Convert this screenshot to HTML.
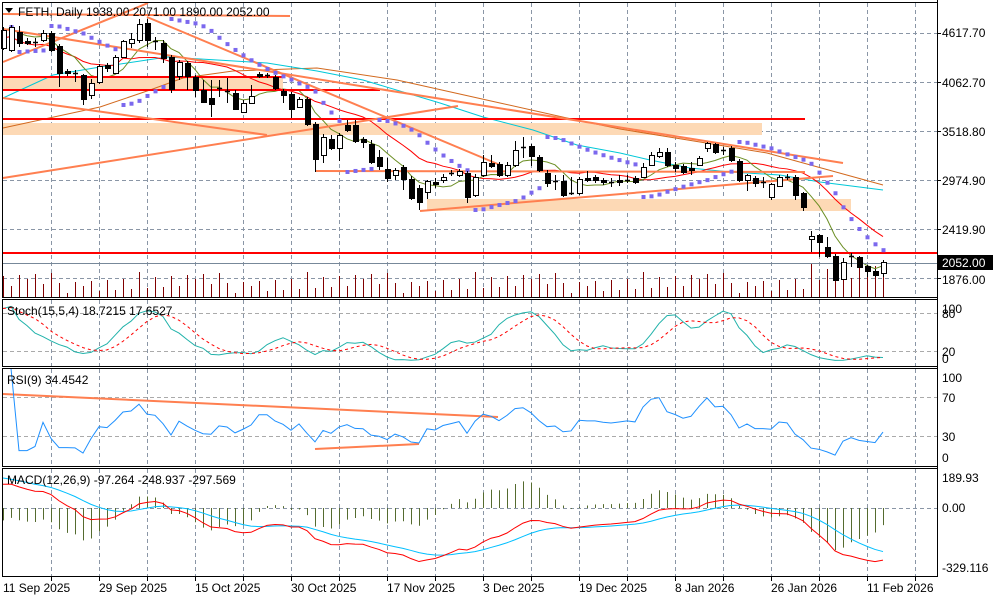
<!DOCTYPE html>
<html><head><meta charset="utf-8">
<style>
html,body{margin:0;padding:0;background:#fff;}
svg{display:block;font-family:"Liberation Sans",sans-serif;}
</style></head>
<body>
<svg id="s" width="1000" height="600" viewBox="0 0 1000 600" xmlns="http://www.w3.org/2000/svg">
<rect x="0" y="0" width="1000" height="600" fill="#fff"/>
<g id="grid"></g>
<g id="bands"></g>
<g id="vol"></g>
<g id="mas"></g>
<g id="lines"></g>
<g id="psar"></g>
<g id="candles"></g>
<g id="ind"></g>
<g id="frame" stroke="#000" stroke-width="1" fill="none" shape-rendering="crispEdges">
<rect x="2.5" y="2.5" width="935" height="295"/>
<rect x="2.5" y="299.5" width="935" height="67"/>
<rect x="2.5" y="368.5" width="935" height="98"/>
<rect x="2.5" y="468.5" width="935" height="108"/>
</g>
<g id="ticks" stroke="#000" shape-rendering="crispEdges"></g>
<g font-size="12" fill="#000">
<path d="M5 8 L13 8 L9 13 Z" fill="#000"/>
<text x="18" y="16">FETH, Daily  1938.00 2071.00 1890.00 2052.00</text>
<text x="942" y="37">4617.70</text>
<text x="942" y="87">4062.70</text>
<text x="942" y="136">3518.80</text>
<text x="942" y="185">2974.90</text>
<text x="942" y="234">2419.90</text>
<text x="942" y="284">1876.00</text>
<rect x="938" y="255" width="55" height="15" fill="#000"/>
<text x="942" y="267" fill="#fff">2052.00</text>
<text x="7" y="315">Stoch(15,5,4) 18.7215 17.6527</text>
<text x="942" y="313">100</text>
<text x="942" y="318">80</text>
<text x="942" y="356">20</text>
<text x="942" y="363">0</text>
<text x="7" y="384">RSI(9) 34.4542</text>
<text x="942" y="382">100</text>
<text x="942" y="402">70</text>
<text x="942" y="441">30</text>
<text x="942" y="462">0</text>
<text x="7" y="484">MACD(12,26,9) -97.264 -248.937 -297.569</text>
<text x="942" y="482">189.93</text>
<text x="942" y="512">0.00</text>
<text x="942" y="572">-329.116</text>
<text x="3" y="592">11 Sep 2025</text>
<text x="99" y="592">29 Sep 2025</text>
<text x="195" y="592">15 Oct 2025</text>
<text x="291" y="592">30 Oct 2025</text>
<text x="387" y="592">17 Nov 2025</text>
<text x="483" y="592">3 Dec 2025</text>
<text x="579" y="592">19 Dec 2025</text>
<text x="675" y="592">8 Jan 2026</text>
<text x="771" y="592">26 Jan 2026</text>
<text x="867" y="592">11 Feb 2026</text>
</g>
</svg>
<script>
(function(){
var NS="http://www.w3.org/2000/svg";
function el(g,tag,a){var e=document.createElementNS(NS,tag);for(var k in a)e.setAttribute(k,a[k]);document.getElementById(g).appendChild(e);return e;}
function X(k){return 3+8*k;}
var D=[[48,30,27,50],[50,27,25,52],[32,43,26,47],[41,43,38,45],[43,42,38,47],[40,33,30,42],[33,50,31,52],[46,73,44,87],[71,73,69,76],[73,74,70,82],
[75,99,74,105],[95,83,79,99],[82,66,64,84],[65,68,63,72],[73,57,55,74],[57,41,40,58],[43,39,33,48],[40,24,19,43],[23,40,19,47],[41,42,37,50],
[43,58,40,63],[57,89,55,93],[76,62,60,80],[63,76,61,90],[77,90,75,97],[90,102,80,103],[98,104,80,117],[88,89,80,97],[91,92,78,103],[93,109,90,110],
[112,103,100,113],[103,96,85,104],[74,76,72,78],[75,76,73,78],[77,88,75,90],[91,95,89,103],[94,109,92,118],[107,99,97,108],[99,124,97,126],[124,159,122,172],
[155,137,134,163],[139,148,135,150],[148,135,133,161],[125,130,120,132],[125,141,120,143],[139,142,137,148],[144,162,140,164],[157,166,150,170],[169,178,158,182],[175,170,168,180],
[167,179,165,190],[179,198,176,200],[188,202,185,210],[192,181,180,199],[182,184,178,188],[180,177,174,183],[173,174,170,176],[175,171,169,177],[173,197,171,203],[195,177,174,197],
[175,162,155,177],[163,166,155,168],[164,175,162,177],[175,165,162,177],[165,150,141,167],[147,148,137,158],[146,156,144,166],[157,170,155,172],[173,183,170,187],[181,182,175,190],
[181,195,175,197],[193,194,177,195],[193,179,177,195],[178,180,171,182],[177,180,175,183],[180,182,178,185],[182,183,178,187],[180,182,175,186],[180,181,175,183],[178,182,176,184],
[177,167,163,178],[165,155,152,166],[156,152,148,158],[152,165,148,167],[165,168,162,172],[166,172,164,174],[168,170,162,175],[165,158,156,166],[148,143,142,152],[144,152,143,154],
[150,151,147,155],[148,160,146,162],[161,180,159,182],[180,175,174,191],[178,183,176,187],[182,183,177,188],[197,184,183,200],[186,177,175,187],[177,178,174,180],[177,195,175,200],
[193,207,192,211],[239,236,231,252],[235,242,234,257],[247,256,237,258],[256,280,254,281],[279,262,258,280],[256,257,253,267],[257,267,256,268],[266,271,265,277],[271,275,269,277],[273,262,260,277]];
var N=D.length;
function P(y){return 4617.7-(y-33)*(2741.7/245);}
function Y(p){return 33+(4617.7-p)*(245/2741.7);}
var C=D.map(function(d){return P(d[1]);}),H=D.map(function(d){return P(d[2]);}),L=D.map(function(d){return P(d[3]);});
var gs={stroke:"#8a96a6","stroke-width":1,"stroke-dasharray":"4,3","shape-rendering":"crispEdges",fill:"none"};
function gl(x1,y1,x2,y2,c){var a={};for(var k in gs)a[k]=gs[k];a.x1=x1;a.y1=y1;a.x2=x2;a.y2=y2;if(c)a.stroke=c;el("grid","line",a);}
for(var i=1;i<=19;i++){var x=3+48*i+0.5;gl(x,3,x,297);gl(x,300,x,366);gl(x,369,x,466);gl(x,469,x,576);
 el("ticks","line",{x1:x,y1:576,x2:x,y2:581});}
[33,82,131,180,229,278].forEach(function(y){gl(3,y+.5,937,y+.5);el("ticks","line",{x1:937,y1:y+.5,x2:941,y2:y+.5});});
gl(3,313.5,937,313.5,"#aaa");gl(3,351.5,937,351.5,"#aaa");
gl(3,397.5,937,397.5,"#aaa");gl(3,436.5,937,436.5,"#aaa");
gl(3,508.5,937,508.5);
el("bands","rect",{x:3,y:77,width:280,height:13,fill:"#fdd9b5"});
el("bands","rect",{x:3,y:123,width:759,height:12,fill:"#fdd9b5"});
el("bands","rect",{x:427,y:199,width:424,height:12,fill:"#fdd9b5"});
for(var k=0;k<N;k++){var h=4+((k*53+17)%21)+((k%7==3)?6:0);if(k>100)h+=8;
 el("vol","line",{x1:X(k)+.5,y1:297,x2:X(k)+.5,y2:297-h,stroke:"#800000","stroke-width":1,"shape-rendering":"crispEdges"});}
function pl(g,pts,col,w,extra){var a={points:pts.map(function(p){return p[0]+","+p[1];}).join(" "),fill:"none",stroke:col,"stroke-width":w||1};for(var k in extra)a[k]=extra[k];return el(g,"polyline",a);}
pl("mas",[[3,128],[100,107],[150,90],[183,78],[233,71],[317,68],[397,80],[500,103],[567,118],[620,129],[700,142],[767,153],[883,185]],"#d2691e");
pl("mas",[[3,98],[53,75],[100,67],[167,57],[267,63],[317,71],[363,80],[440,103],[483,117],[533,130],[577,145],[620,153],[650,160],[690,168],[730,172],[780,175],[820,182],[883,190]],"#00c8d8");
function sma(arr,n){return arr.map(function(v,i){var s=0,c=0;for(var j=Math.max(0,i-n+1);j<=i;j++){s+=arr[j];c++;}return s/c;});}
var cy=D.map(function(d){return d[1];});
var r15=sma(cy,15),g6=sma(cy,6);
pl("mas",r15.map(function(v,i){return [X(i),v+ (i<15?8:0)];}),"#ff0000");
pl("mas",g6.map(function(v,i){return [X(i),v];}),"#6b8e23");
function ln(x1,y1,x2,y2,c,w){el("lines","line",{x1:x1,y1:y1,x2:x2,y2:y2,stroke:c,"stroke-width":w});}
ln(3,77,283,77,"#ff0000",2);ln(3,90,380,90,"#ff0000",2);ln(3,119,805,119,"#ff0000",2);
ln(3,253,937,253,"#ff0000",2);ln(3,263.5,937,263.5,"#778899",1);
var cor="#ff7f50";
ln(3,178,458,106,cor,2);ln(3,98,267,135,cor,2);ln(3,62,148,3,cor,2);ln(3,29,843,163,cor,2);
ln(147,17,500,165,cor,2);ln(3,14,290,16,cor,2);ln(316,171,805,172,cor,2);ln(420,211,833,176,cor,2);
ln(3,394,498,417,cor,2);ln(315,449,419,444,cor,2);
(function(){var up=true,af=.02,ep=H[0],sar=L[0];
for(var i=1;i<N;i++){sar=sar+af*(ep-sar);
 if(up){if(L[i]<sar){up=false;sar=ep;ep=L[i];af=.02;}else{if(H[i]>ep){ep=H[i];af=Math.min(.2,af+.02);}}}
 else{if(H[i]>sar){up=true;sar=ep;ep=H[i];af=.02;}else{if(L[i]<ep){ep=L[i];af=Math.min(.2,af+.02);}}}
 var y=Y(sar);if(y>2&&y<296)el("psar","rect",{x:X(i)-1.5,y:y-2,width:4,height:4,fill:"#7b68ee"});}})();
D.forEach(function(d,k){var x=X(k);var t=Math.min(d[0],d[1]),b=Math.max(d[0],d[1]);var bull=d[1]<d[0];
 el("candles","line",{x1:x+.5,y1:d[2],x2:x+.5,y2:d[3],stroke:"#000","stroke-width":1});
 if(b-t<1.5){el("candles","line",{x1:x-2,y1:t+.5,x2:x+3,y2:t+.5,stroke:"#000","stroke-width":1.5});}
 else el("candles","rect",{x:x-2+.5,y:t+.5,width:5,height:b-t,fill:bull?"#fff":"#000",stroke:"#000","stroke-width":1});});
var K=[];
for(var i=0;i<N;i++){var s1=0,s2=0;for(var j=Math.max(0,i-3);j<=i;j++){var hh=-1e9,ll=1e9;for(var m=Math.max(0,j-14);m<=j;m++){hh=Math.max(hh,H[m]);ll=Math.min(ll,L[m]);}s1+=C[j]-ll;s2+=hh-ll;}K.push(s2>0?100*s1/s2:50);}
var Dd=sma(K,5);
pl("ind",K.map(function(v,i){return [X(i),365-v*0.65];}),"#20b2aa");
pl("ind",Dd.map(function(v,i){return [X(i),365-v*0.65];}),"#ff0000",1,{"stroke-dasharray":"3,3"});
var R=[50],ag=0,al=0;
for(var i=1;i<N;i++){var ch=C[i]-C[i-1],g=Math.max(ch,0),l=Math.max(-ch,0);
 if(i<=9){ag=(ag*(i-1)+g)/i;al=(al*(i-1)+l)/i;}else{ag=(ag*8+g)/9;al=(al*8+l)/9;}
 R.push(al==0?100:100-100/(1+ag/al));}
R[0]=R[1];
pl("ind",R.map(function(v,i){return [X(i),466-v*0.975];}),"#1e90ff");
var e12=C[0]-113,e26=C[0]-250,mac=[],sig=[],sg=180;
for(var i=0;i<N;i++){e12+= (C[i]-e12)*2/13;e26+=(C[i]-e26)*2/27;var m=e12-e26;mac.push(m);sg+=(m-sg)*0.2;sig.push(sg);}
var hist=mac.map(function(m,i){return 2*(m-sig[i]);});
var all=mac.concat(sig).concat(hist);var mx=Math.max.apply(null,all),mn=Math.min.apply(null,all);
var sc=Math.min(30/Math.max(mx,1),60/Math.max(-mn,1));
function MY(v){return 508-v*sc;}
hist.forEach(function(v,i){el("ind","line",{x1:X(i)+.5,y1:508,x2:X(i)+.5,y2:MY(v),stroke:"#556b2f","stroke-width":1});});
pl("ind",sig.map(function(v,i){return [X(i),MY(v)];}),"#00bfff");
pl("ind",mac.map(function(v,i){return [X(i),MY(v)];}),"#ff0000");
el("ticks","line",{x1:937.5,y1:0,x2:937.5,y2:577});
})();
</script>
</body></html>
